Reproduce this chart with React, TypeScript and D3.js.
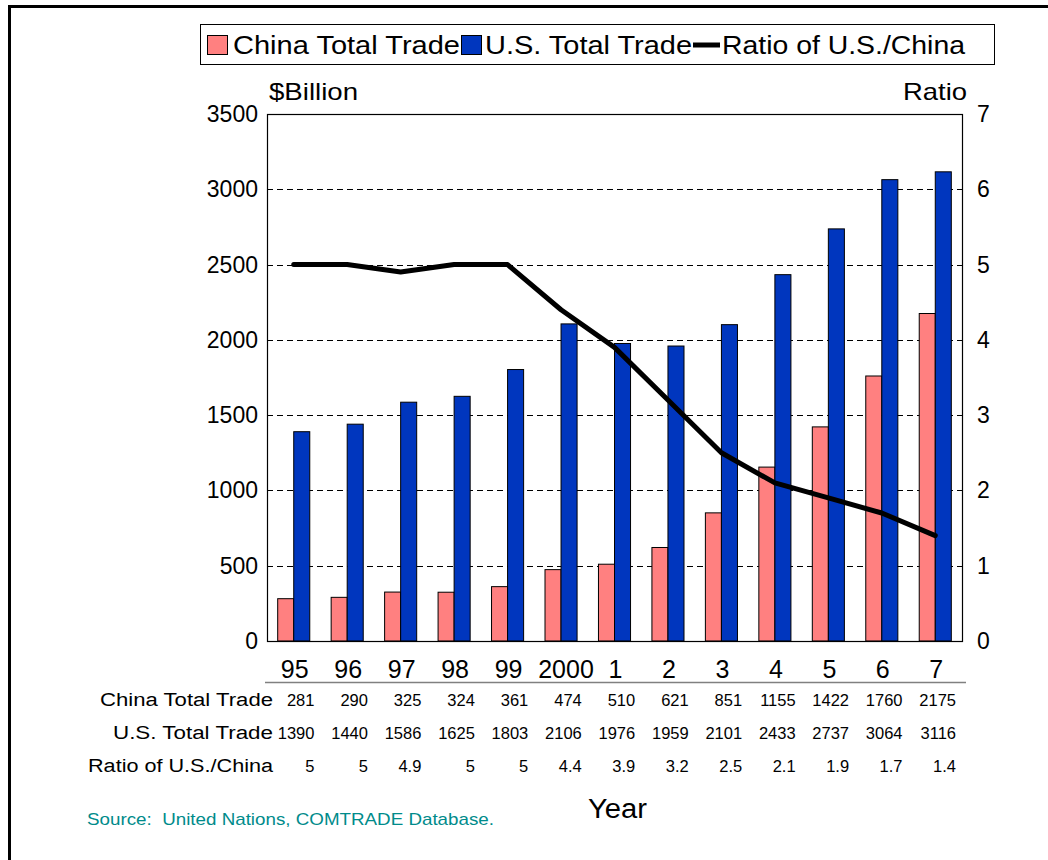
import React from "react";
import * as d3 from "d3";

const years = ["95", "96", "97", "98", "99", "2000", "1", "2", "3", "4", "5", "6", "7"];
const chinaTrade = [281, 290, 325, 324, 361, 474, 510, 621, 851, 1155, 1422, 1760, 2175];
const usTrade = [1390, 1440, 1586, 1625, 1803, 2106, 1976, 1959, 2101, 2433, 2737, 3064, 3116];
const ratio = [5, 5, 4.9, 5, 5, 4.4, 3.9, 3.2, 2.5, 2.1, 1.9, 1.7, 1.4];
const ratioLabels = ["5", "5", "4.9", "5", "5", "4.4", "3.9", "3.2", "2.5", "2.1", "1.9", "1.7", "1.4"];
const leftTicks = [0, 500, 1000, 1500, 2000, 2500, 3000, 3500];
const rightTicks = [0, 1, 2, 3, 4, 5, 6, 7];
const seriesNames = ["China Total Trade", "U.S. Total Trade", "Ratio of U.S./China"];

const PINK = "#FF8080";
const BLUE = "#0036BE";
const FONT = "'Liberation Sans', Arial, sans-serif";

export default function App() {
  const L = 267, R = 962, T = 114, B = 641;
  const x = d3.scaleBand<string>().domain(years).range([L, R]).paddingInner(0).paddingOuter(0);
  const yL = d3.scaleLinear().domain([0, 3500]).range([B, T]);
  const yR = d3.scaleLinear().domain([0, 7]).range([B, T]);
  const bw = x.step() * 0.3;
  const cx = (y: string) => (x(y) as number) + x.bandwidth() / 2;

  const line = d3
    .line<number>()
    .x((_, i) => cx(years[i]))
    .y((d) => yR(d));

  const rows = [
    { label: seriesNames[0], vals: chinaTrade.map(String), y: 706, x0: 100 },
    { label: seriesNames[1], vals: usTrade.map(String), y: 739, x0: 113 },
    { label: seriesNames[2], vals: ratioLabels, y: 772, x0: 88 },
  ];
  const legend = [
    { name: seriesNames[0], x: 233, w: 227 },
    { name: seriesNames[1], x: 485, w: 207 },
    { name: seriesNames[2], x: 722, w: 243 },
  ];

  return (
    <svg
      width={1048}
      height={860}
      style={{ position: "absolute", left: 0, top: 0, background: "#fff" }}
      fontFamily={FONT}
    >
      <rect x={0} y={0} width={1048} height={860} fill="#fff" />
      {/* outer frame */}
      <rect x={9.5} y={6.5} width={1100} height={900} fill="none" stroke="#000" strokeWidth={3} />

      {/* legend */}
      <rect x={200.5} y={24.5} width={794} height={40} fill="#fff" stroke="#000" strokeWidth={1} />
      <rect x={207.5} y={35.5} width={20} height={19} fill={PINK} stroke="#000" />
      <rect x={461.5} y={35.5} width={20} height={19} fill={BLUE} stroke="#000" />
      <line x1={693} x2={720} y1={45} y2={45} stroke="#000" strokeWidth={5} />
      {legend.map((l) => (
        <text key={l.name} x={l.x} y={54} fontSize={25} textLength={l.w} lengthAdjust="spacingAndGlyphs">{l.name}</text>
      ))}

      {/* axis titles */}
      <text x={269} y={100} fontSize={24} textLength={89} lengthAdjust="spacingAndGlyphs">$Billion</text>
      <text x={903} y={100} fontSize={24} textLength={64} lengthAdjust="spacingAndGlyphs">Ratio</text>

      {/* gridlines */}
      {leftTicks.filter((t) => t > 0 && t < 3500).map((t) => (
        <line key={t} x1={L} x2={R} y1={Math.round(yL(t)) + 0.5} y2={Math.round(yL(t)) + 0.5}
          stroke="#000" strokeWidth={1} strokeDasharray="6,4" />
      ))}

      {/* bars */}
      {years.map((yr, i) => (
        <g key={yr}>
          <rect x={cx(yr) - bw} y={yL(chinaTrade[i])} width={bw} height={B - yL(chinaTrade[i])}
            fill={PINK} stroke="#000" strokeWidth={1} />
          <rect x={cx(yr)} y={yL(usTrade[i])} width={bw} height={B - yL(usTrade[i])}
            fill={BLUE} stroke="#000" strokeWidth={1} />
        </g>
      ))}

      {/* plot border */}
      <rect x={L + 0.5} y={T + 0.5} width={R - L} height={B - T} fill="none" stroke="#000" strokeWidth={1.2} />

      {/* ratio line */}
      <path d={line(ratio) || ""} fill="none" stroke="#000" strokeWidth={5} strokeLinejoin="round" strokeLinecap="round" />

      {/* left ticks */}
      {leftTicks.map((t) => (
        <text key={t} x={258} y={yL(t) + 8} fontSize={23} textAnchor="end">{t}</text>
      ))}
      {/* right ticks */}
      {rightTicks.map((t) => (
        <text key={t} x={977} y={yR(t) + 8} fontSize={23}>{t}</text>
      ))}

      {/* x labels */}
      {years.map((yr) => (
        <text key={yr} x={cx(yr) + (yr === "2000" ? 5 : 1)} y={678} fontSize={25} textAnchor="middle">{yr}</text>
      ))}
      <line x1={265} x2={966} y1={682.5} y2={682.5} stroke="#808080" strokeWidth={1.5} />

      {/* data table */}
      {rows.map((r) => (
        <g key={r.label}>
          <text x={r.x0} y={r.y} fontSize={18} textLength={273 - r.x0} lengthAdjust="spacingAndGlyphs">{r.label}</text>
          {r.vals.map((v, i) => (
            <text key={i} x={(x(years[i]) as number) + x.step() - 6} y={r.y} fontSize={16.5} textAnchor="end">{v}</text>
          ))}
        </g>
      ))}

      <text x={588} y={818} fontSize={27} textLength={59} lengthAdjust="spacingAndGlyphs">Year</text>
      <text x={87} y={825} fontSize={17} fill="#008B8B" textLength={407} lengthAdjust="spacingAndGlyphs"
        style={{ whiteSpace: "pre" }}>{"Source:  United Nations, COMTRADE Database."}</text>
    </svg>
  );
}
